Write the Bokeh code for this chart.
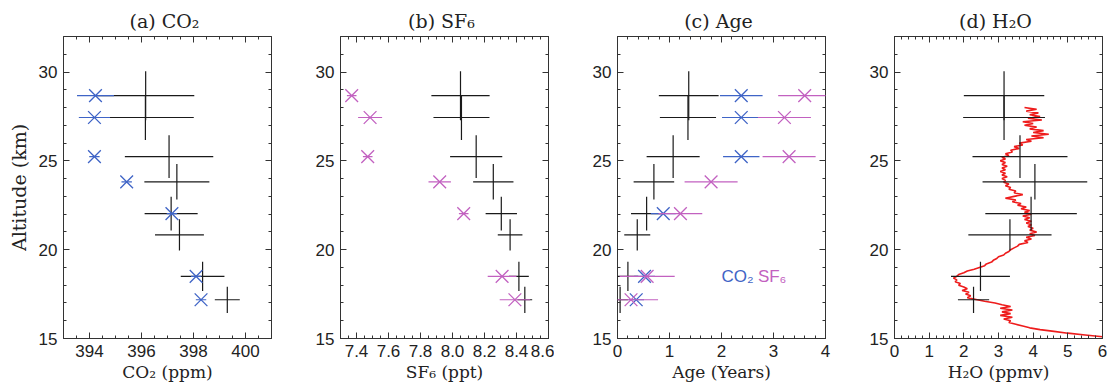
import numpy as np
from bokeh.plotting import figure
from bokeh.models import Range1d, LinearAxis, FixedTicker, Label, CustomLabelingPolicy
from bokeh.layouts import row
from bokeh.embed import file_html
from bokeh.resources import INLINE

# ---- data ----
alt = [28.67, 27.44, 25.24, 23.82, 22.03, 20.83, 18.50, 17.18]
alt_err = [1.38, 1.27, 1.20, 1.00, 0.95, 0.88, 0.82, 0.74]

co2_model = [396.16, 396.15, 397.06, 397.36, 397.14, 397.46, 398.35, 399.30]
co2_model_err = [1.87, 1.86, 1.70, 1.25, 1.02, 0.94, 0.84, 0.48]
sf6_model = [8.050, 8.056, 8.148, 8.255, 8.305, 8.360, 8.415, 8.452]
sf6_model_err = [0.182, 0.175, 0.163, 0.126, 0.098, 0.077, 0.062, 0.046]
age_model = [1.37, 1.355, 1.07, 0.70, 0.56, 0.38, 0.20, 0.05]
age_model_err = [0.575, 0.54, 0.51, 0.39, 0.30, 0.25, 0.20, 0.15]
h2o_model = [3.16, 3.16, 3.62, 4.05, 3.94, 3.33, 2.48, 2.28]
h2o_model_err = [1.16, 1.18, 1.37, 1.51, 1.32, 1.20, 0.85, 0.45]

alt_obs = [28.67, 27.44, 25.24, 23.82, 22.03, 18.50, 17.18]
co2_obs = [394.23, 394.19, 394.19, 395.43, 397.17, 398.10, 398.29]
co2_obs_err = [0.71, 0.60, 0.20, 0.20, 0.20, 0.20, 0.20]
sf6_obs = [7.37, 7.485, 7.47, 7.92, 8.07, 8.31, 8.39]
sf6_obs_err = [0.03, 0.075, 0.03, 0.07, 0.03, 0.09, 0.095]

alt_age_co2 = [28.67, 27.44, 25.24, 22.03, 18.50, 17.18]
age_co2 = [2.38, 2.38, 2.38, 0.88, 0.52, 0.36]
age_co2_err = [0.41, 0.37, 0.35, 0.24, 0.20, 0.15]
age_sf6 = [3.60, 3.21, 3.30, 1.80, 1.21, 0.57, 0.26]
age_sf6_err = [0.51, 0.51, 0.51, 0.51, 0.42, 0.53, 0.52]

h2o_alt = [28.0, 27.9, 27.8, 27.7, 27.6, 27.5, 27.4, 27.3, 27.2, 27.1,
           27.0, 26.9, 26.8, 26.7, 26.6, 26.5, 26.4, 26.3, 26.2, 26.1,
           26.0, 25.9, 25.8, 25.7, 25.6, 25.5, 25.4, 25.3, 25.2, 25.1,
           25.0, 24.9, 24.8, 24.7, 24.6, 24.5, 24.4, 24.3, 24.2, 24.1,
           24.0, 23.9, 23.8, 23.7, 23.6, 23.5, 23.4, 23.3, 23.2, 23.1,
           23.0, 22.9, 22.8, 22.7, 22.6, 22.5, 22.4, 22.3, 22.2, 22.1,
           22.0, 21.9, 21.8, 21.7, 21.6, 21.5, 21.4, 21.3, 21.2, 21.1,
           21.0, 20.9, 20.8, 20.7, 20.6, 20.5, 20.4, 20.3, 20.2, 20.1,
           20.0, 19.9, 19.8, 19.7, 19.6, 19.5, 19.4, 19.3, 19.2, 19.1,
           19.0, 18.9, 18.8, 18.7, 18.6, 18.5, 18.4, 18.3, 18.2, 18.1,
           18.0, 17.9, 17.8, 17.7, 17.6, 17.5, 17.4, 17.3, 17.2, 17.1,
           17.0, 16.9, 16.8, 16.7, 16.6, 16.5, 16.4, 16.3, 16.2, 16.1,
           16.0, 15.9, 15.8, 15.7, 15.6, 15.5, 15.4, 15.3, 15.2, 15.1, 15.0]
h2o_prof = [3.75, 4.10, 3.80, 4.15, 3.90, 4.20, 3.85, 4.25, 3.70, 4.00,
            3.75, 4.10, 3.90, 4.30, 4.00, 4.45, 3.95, 4.30, 3.80, 3.95,
            3.60, 3.70, 3.45, 3.60, 3.35, 3.40, 3.20, 3.30, 3.10, 3.20,
            3.05, 3.20, 3.10, 3.25, 3.10, 3.20, 3.05, 3.20, 3.10, 3.25,
            3.10, 3.20, 3.15, 3.30, 3.20, 3.35, 3.30, 3.50, 3.45, 3.70,
            3.45, 3.20, 3.50, 3.40, 3.65, 3.55, 3.80, 3.65, 3.90, 3.75,
            3.95, 3.70, 3.90, 3.75, 3.95, 3.80, 3.95, 3.85, 4.00, 3.90,
            4.10, 3.90, 4.05, 3.80, 3.95, 3.75, 3.85, 3.60, 3.55, 3.45,
            3.35, 3.30, 3.20, 3.15, 3.00, 2.95, 2.85, 2.80, 2.65, 2.60,
            2.45, 2.30, 2.10, 2.00, 1.85, 1.80, 1.70, 1.80, 1.75, 1.90,
            1.85, 2.00, 2.10, 1.95, 2.15, 2.05, 2.20, 2.10, 2.35, 2.60,
            2.90, 3.10, 3.35, 3.05, 3.40, 3.10, 3.35, 3.05, 3.40, 3.15,
            3.35, 3.30, 3.50, 3.70, 3.90, 4.20, 4.60, 5.00, 5.50, 6.00, 6.20]

BLACK = "#1a1a1a"
BLUE = "#3f64c6"
MAG = "#c261c0"
RED = "#ee1c1c"
SERIF = "DejaVu Serif"
SANS = "Liberation Sans"

NO_LABELS = CustomLabelingPolicy(code="if (false) { yield 0 }")


def style_axis(ax, majors, minors, labels=True):
    ax.ticker = FixedTicker(ticks=majors, minor_ticks=minors)
    ax.major_tick_in = 6
    ax.major_tick_out = 0
    ax.minor_tick_in = 3
    ax.minor_tick_out = 0
    ax.major_tick_line_color = "#333333"
    ax.minor_tick_line_color = "#333333"
    ax.axis_line_color = None
    ax.major_label_text_font = SANS
    ax.major_label_text_font_size = "17px"
    ax.major_label_text_color = "#222222"
    ax.major_label_standoff = 6
    if not labels:
        ax.major_label_policy = NO_LABELS
        ax.major_label_text_font_size = "1px"
        ax.major_label_standoff = 0
    ax.axis_label_text_font = SERIF
    ax.axis_label_text_font_size = "17px"
    ax.axis_label_text_font_style = "normal"
    ax.axis_label_text_color = "#222222"
    ax.axis_label_standoff = 2


def panel(title, xlabel, xr, majors, minors, xlabels, ylabel=None):
    p = figure(width=277, height=389, x_range=Range1d(*xr), y_range=Range1d(15, 32),
               output_backend="svg", toolbar_location=None,
               min_border_left=63, min_border_right=6, min_border_top=36, min_border_bottom=51)
    p.grid.visible = False
    p.outline_line_color = "#333333"
    p.outline_line_width = 1
    p.title.text = title
    p.title.align = "center"
    p.title.text_font = SERIF
    p.title.text_font_size = "19px"
    p.title.text_font_style = "normal"
    p.title.text_color = "#222222"
    p.title.standoff = 2
    ymaj = [15, 20, 25, 30]
    ymin = list(range(15, 33))
    style_axis(p.xaxis[0], majors, minors)
    p.xaxis[0].major_label_overrides = {m: l for m, l in zip(majors, xlabels)}
    p.xaxis[0].axis_label = xlabel
    style_axis(p.yaxis[0], ymaj, ymin)
    if ylabel:
        p.yaxis[0].axis_label = ylabel
        p.yaxis[0].axis_label_text_font_size = "19px"
        p.yaxis[0].axis_label_standoff = 6
    top = LinearAxis()
    style_axis(top, majors, minors, labels=False)
    p.add_layout(top, "above")
    right = LinearAxis()
    style_axis(right, ymaj, ymin, labels=False)
    p.add_layout(right, "right")
    return p


def cross(p, x, xe, y, ye, color, lw=1.2):
    x = np.asarray(x); xe = np.asarray(xe); y = np.asarray(y); ye = np.asarray(ye)
    p.segment(x - xe, y, x + xe, y, line_color=color, line_width=lw)
    p.segment(x, y - ye, x, y + ye, line_color=color, line_width=lw)


def xmarks(p, x, xe, y, color):
    x = np.asarray(x); xe = np.asarray(xe); y = np.asarray(y)
    p.segment(x - xe, y, x + xe, y, line_color=color, line_width=1.2)
    p.scatter(x, y, marker="x", size=18, line_color=color, line_width=1.3)


# (a) CO2
pa = panel("(a)  CO\u2082", "CO\u2082 (ppm)", (393, 401), [394, 396, 398, 400],
           list(np.arange(393, 401.01, 0.5)), ["394", "396", "398", "400"], ylabel="Altitude (km)")
cross(pa, co2_model, co2_model_err, alt, alt_err, BLACK)
xmarks(pa, co2_obs, co2_obs_err, alt_obs, BLUE)

# (b) SF6
bmaj = [7.4, 7.6, 7.8, 8.0, 8.2, 8.4, 8.6]
pb = panel("(b)  SF\u2086", "SF\u2086 (ppt)", (7.3, 8.6), bmaj,
           list(np.round(np.arange(7.3, 8.601, 0.05), 2)), ["7.4", "7.6", "7.8", "8.0", "8.2", "8.4", "8.6"])
cross(pb, sf6_model, sf6_model_err, alt, alt_err, BLACK)
xmarks(pb, sf6_obs, sf6_obs_err, alt_obs, MAG)

# (c) Age
pc = panel("(c)  Age", "Age (Years)", (0, 4), [0, 1, 2, 3, 4],
           list(np.round(np.arange(0, 4.001, 0.2), 2)), ["0", "1", "2", "3", "4"])
cross(pc, age_model, age_model_err, alt, alt_err, BLACK)
xmarks(pc, age_co2, age_co2_err, alt_age_co2, BLUE)
xmarks(pc, age_sf6, age_sf6_err, alt_obs, MAG)
pc.add_layout(Label(x=2.0, y=18.5, text="CO\u2082", text_color=BLUE, text_font=SANS,
                    text_font_size="17px", text_baseline="middle", text_align="left"))
pc.add_layout(Label(x=2.7, y=18.5, text="SF\u2086", text_color=MAG, text_font=SANS,
                    text_font_size="17px", text_baseline="middle", text_align="left"))

# (d) H2O
pd_ = panel("(d)  H\u2082O", "H\u2082O (ppmv)", (0, 6), [0, 1, 2, 3, 4, 5, 6],
            list(np.round(np.arange(0, 6.001, 0.2), 2)), ["0", "1", "2", "3", "4", "5", "6"])
pd_.line(h2o_prof, h2o_alt, line_color=RED, line_width=1.6)
cross(pd_, h2o_model, h2o_model_err, alt, alt_err, BLACK)

layout = row(pa, pb, pc, pd_, spacing=0)
open("out.html", "w").write(file_html(layout, INLINE))
